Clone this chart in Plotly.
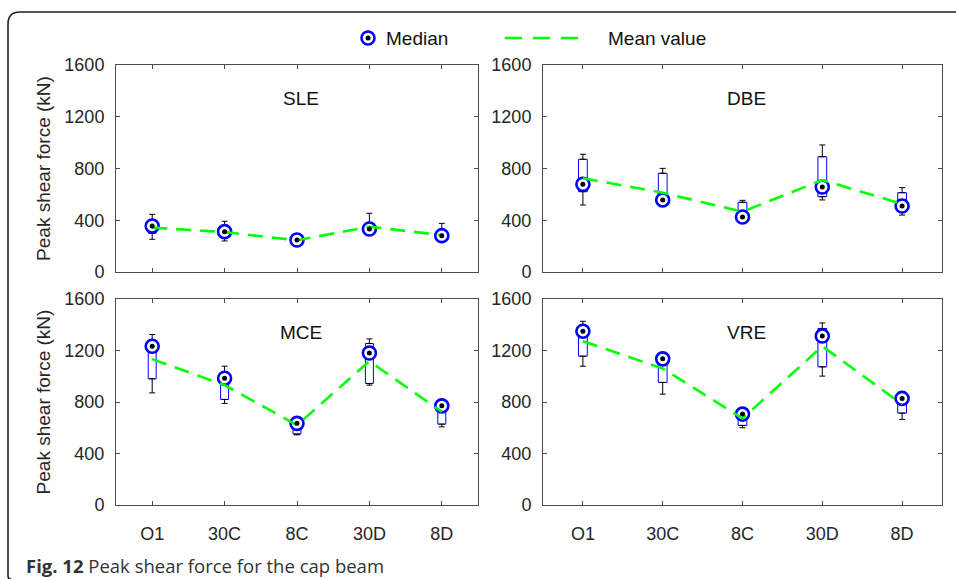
import plotly.graph_objects as go

categories = ["O1", "30C", "8C", "30D", "8D"]
panel_names = ["SLE", "DBE", "MCE", "VRE"]
y_ticks = [0, 400, 800, 1200, 1600]

# SLE
sle_median = [356, 312, 247, 332, 281]
sle_mean = [343, 308, 245, 350, 285]
sle_q1 = [300, 296, 236, 322, 272]
sle_q3 = [375, 325, 258, 345, 292]
sle_low = [253, 240, 230, 318, 266]
sle_high = [446, 392, 290, 454, 376]

# DBE
dbe_median = [678, 557, 425, 657, 510]
dbe_mean = [724, 613, 466, 711, 526]
dbe_q1 = [621, 548, 415, 582, 470]
dbe_q3 = [871, 763, 539, 891, 613]
dbe_low = [518, 535, 405, 557, 440]
dbe_high = [910, 801, 554, 982, 652]

# MCE
mce_median = [1233, 985, 634, 1181, 770]
mce_mean = [1133, 931, 620, 1117, 724]
mce_q1 = [980, 820, 551, 944, 628]
mce_q3 = [1245, 990, 640, 1254, 775]
mce_low = [871, 789, 545, 931, 607]
mce_high = [1324, 1078, 645, 1290, 790]

# VRE
vre_median = [1350, 1135, 706, 1313, 828]
vre_mean = [1272, 1060, 672, 1233, 783]
vre_q1 = [1156, 952, 618, 1073, 714]
vre_q3 = [1365, 1140, 710, 1371, 832]
vre_low = [1078, 861, 600, 1001, 665]
vre_high = [1427, 1150, 715, 1414, 840]

panels = [
    (sle_median, sle_mean, sle_q1, sle_q3, sle_low, sle_high),
    (dbe_median, dbe_mean, dbe_q1, dbe_q3, dbe_low, dbe_high),
    (mce_median, mce_mean, mce_q1, mce_q3, mce_low, mce_high),
    (vre_median, vre_mean, vre_q1, vre_q3, vre_low, vre_high),
]

W, H = 956, 579
def px(x):
    return x / W
def py(y):
    return 1 - y / H

BLUE = "#0000ff"
GREEN = "#00ff00"
AXC = "#4d4d4d"
TXT = "#262626"
FONT = "Liberation Sans, Arial, sans-serif"

fig = go.Figure()

for i, (med, mean, q1, q3, low, high) in enumerate(panels):
    sfx = "" if i == 0 else str(i + 1)
    xa, ya = "x" + sfx, "y" + sfx
    # boxes
    fig.add_trace(go.Box(
        x=categories, q1=q1, median=med, q3=q3,
        lowerfence=q1, upperfence=q3,
        width=0.11, line=dict(color=BLUE, width=1), fillcolor="white",
        whiskerwidth=0, boxpoints=False, showlegend=False,
        xaxis=xa, yaxis=ya, hoverinfo="skip"))
    # whiskers upper
    fig.add_trace(go.Scatter(
        x=categories, y=q3, mode="markers",
        marker=dict(size=1, color="rgba(0,0,0,0)"),
        error_y=dict(type="data", symmetric=False,
                     array=[h - q for h, q in zip(high, q3)],
                     arrayminus=[0] * len(q3),
                     color="black", thickness=1, width=3),
        showlegend=False, xaxis=xa, yaxis=ya, hoverinfo="skip"))
    # whiskers lower
    fig.add_trace(go.Scatter(
        x=categories, y=q1, mode="markers",
        marker=dict(size=1, color="rgba(0,0,0,0)"),
        error_y=dict(type="data", symmetric=False,
                     array=[0] * len(q1),
                     arrayminus=[q - l for q, l in zip(q1, low)],
                     color="black", thickness=1, width=3),
        showlegend=False, xaxis=xa, yaxis=ya, hoverinfo="skip"))
    # median ring
    fig.add_trace(go.Scatter(
        x=categories, y=med, mode="markers", name="Median",
        marker=dict(symbol="circle", size=13, color="white",
                    line=dict(color=BLUE, width=2.6)),
        showlegend=False, xaxis=xa, yaxis=ya))
    # mean line
    fig.add_trace(go.Scatter(
        x=categories, y=mean, mode="lines", name="Mean value",
        line=dict(color=GREEN, width=2.6, dash="15px,9px"),
        showlegend=False, xaxis=xa, yaxis=ya))
    # median dot
    fig.add_trace(go.Scatter(
        x=categories, y=med, mode="markers",
        marker=dict(symbol="circle", size=5, color="black"),
        showlegend=False, xaxis=xa, yaxis=ya, hoverinfo="skip"))

x_domains = [(116, 478), (543, 942)]
y_domains = [(65, 272), (299, 505)]

layout = dict(
    width=W, height=H, autosize=False,
    margin=dict(l=0, r=0, t=0, b=0, pad=0, autoexpand=False),
    paper_bgcolor="white", plot_bgcolor="white",
    boxmode="overlay", showlegend=False,
    font=dict(family=FONT, color=TXT, size=18),
)

for i in range(4):
    sfx = "" if i == 0 else str(i + 1)
    col = i % 2
    row = i // 2
    xd = x_domains[col]
    yd = y_domains[row]
    layout["xaxis" + sfx] = dict(
        domain=[px(xd[0]), px(xd[1])],
        anchor="y" + sfx,
        type="category", categoryorder="array", categoryarray=categories,
        range=[-0.5, 4.5],
        showline=True, mirror="ticks", linecolor=AXC, linewidth=1,
        ticks="inside", ticklen=4, tickcolor=AXC,
        showgrid=False, zeroline=False,
        showticklabels=(row == 1),
        tickfont=dict(size=18, color=TXT, family=FONT),
        ticklabelstandoff=12,
    )
    yax = dict(
        domain=[py(yd[1]), py(yd[0])],
        anchor="x" + sfx,
        range=[0, 1600], tickvals=y_ticks,
        showline=True, mirror="ticks", linecolor=AXC, linewidth=1,
        ticks="inside", ticklen=4, tickcolor=AXC,
        showgrid=False, zeroline=False,
        tickfont=dict(size=18, color=TXT, family=FONT),
        ticklabelstandoff=7,
    )
    if col == 0:
        yax["title"] = dict(text="Peak shear force (kN)",
                            font=dict(size=19, color=TXT, family=FONT),
                            standoff=8)
    layout["yaxis" + sfx] = yax

fig.update_layout(**layout)

# panel labels
for i, name in enumerate(panel_names):
    sfx = "" if i == 0 else str(i + 1)
    fig.add_annotation(
        x="8C", y=1340, xref="x" + sfx, yref="y" + sfx,
        text=name, showarrow=False, xshift=4,
        font=dict(size=19, color="#111111", family=FONT))

# manual legend
lx, ly = 368, 38
fig.add_shape(type="circle", xref="paper", yref="paper",
              xsizemode="pixel", ysizemode="pixel",
              xanchor=px(lx), yanchor=py(ly),
              x0=-6.5, x1=6.5, y0=-6.5, y1=6.5,
              line=dict(color=BLUE, width=2.6), fillcolor="white")
fig.add_shape(type="circle", xref="paper", yref="paper",
              xsizemode="pixel", ysizemode="pixel",
              xanchor=px(lx), yanchor=py(ly),
              x0=-2.5, x1=2.5, y0=-2.5, y1=2.5,
              line=dict(color="black", width=0), fillcolor="black")
fig.add_annotation(x=px(384), y=py(ly), xref="paper", yref="paper",
                   text="Median", showarrow=False, xanchor="left",
                   yanchor="middle", font=dict(size=19, color="#111111", family=FONT))
fig.add_shape(type="line", xref="paper", yref="paper",
              x0=px(505), x1=px(580), y0=py(ly), y1=py(ly),
              line=dict(color=GREEN, width=2.6, dash="17px,11px"))
fig.add_annotation(x=px(606), y=py(ly), xref="paper", yref="paper",
                   text="Mean value", showarrow=False, xanchor="left",
                   yanchor="middle", font=dict(size=19, color="#111111", family=FONT))

# outer frame (top-left rounded corner)
frame = (f"M {px(956)},{py(12)} L {px(20)},{py(12)} "
         f"Q {px(8)},{py(12)} {px(8)},{py(24)} "
         f"L {px(8)},{py(576)} Q {px(8)},{py(579)} {px(11)},{py(579)}")
fig.add_shape(type="path", xref="paper", yref="paper", path=frame,
              line=dict(color="#222222", width=1.6))

# caption
fig.add_annotation(x=px(24), y=py(565), xref="paper", yref="paper",
                   text="<b>Fig. 12</b> Peak shear force for the cap beam",
                   showarrow=False, xanchor="left", yanchor="middle",
                   font=dict(size=18.5, color="#333333", family="Open Sans, sans-serif"))

fig.write_html("out.html")
